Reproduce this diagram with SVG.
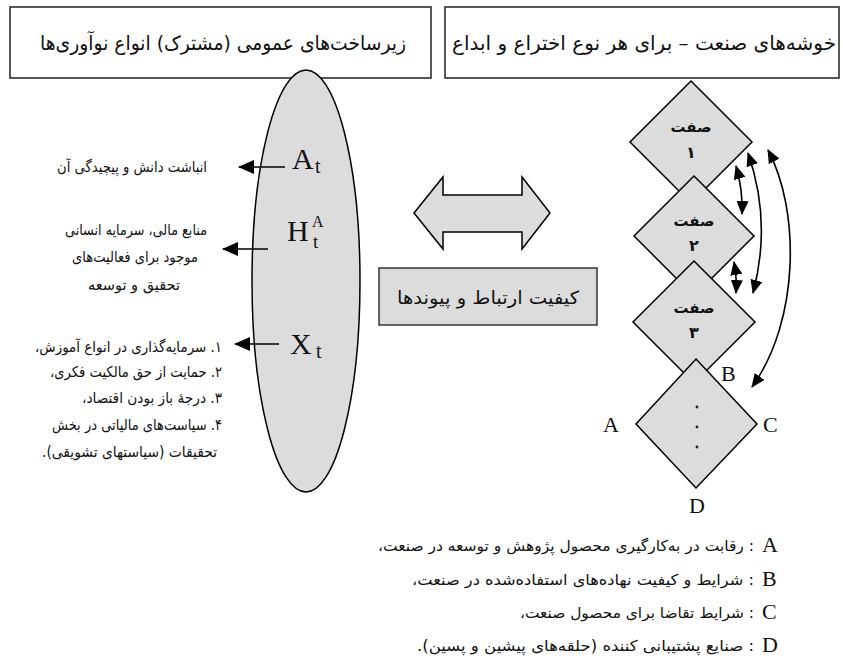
<svg xmlns="http://www.w3.org/2000/svg" width="843" height="671" viewBox="0 0 843 671">
<defs>
<marker id="ah" viewBox="0 0 16 14" markerWidth="16" markerHeight="14" refX="15" refY="7" orient="auto-start-reverse" markerUnits="userSpaceOnUse"><path d="M0,0 L16,7 L0,14 z" fill="#000"/></marker>
<marker id="ahs" viewBox="0 0 14 12" markerWidth="14" markerHeight="12" refX="13" refY="6" orient="auto-start-reverse" markerUnits="userSpaceOnUse"><path d="M0,0 L14,6 L0,12 z" fill="#000"/></marker>
</defs>
<style>
.fa{font-family:'DejaVu Sans',sans-serif;fill:#111}
.lat{font-family:'Liberation Serif',serif;fill:#111}
.shape{fill:#dcdcdc;stroke:#000;stroke-width:1.5}
.box{fill:#fff;stroke:#222;stroke-width:1.5}
.con{fill:none;stroke:#000;stroke-width:1.6}
.b{font-weight:bold}
</style>
<rect width="843" height="671" fill="#fff"/>

<g id="box-infra">
<rect class="box" x="10" y="7" width="421" height="71"/>
<text class="fa" x="223" y="50" font-size="20" direction="rtl" text-anchor="middle" textLength="366" lengthAdjust="spacingAndGlyphs">زیرساخت&#x200C;های عمومی (مشترک) انواع نوآوری&#x200C;ها</text>
</g>
<g id="box-cluster">
<rect class="box" x="445" y="7" width="394" height="71"/>
<text class="fa" x="644" y="50" font-size="20" direction="rtl" text-anchor="middle" textLength="384" lengthAdjust="spacingAndGlyphs">خوشه&#x200C;های صنعت – برای هر نوع اختراع و ابداع</text>
</g>

<g id="ellipse">
<ellipse class="shape" cx="306" cy="281" rx="54" ry="211"/>
<text class="lat" x="292" y="169" font-size="30">A</text>
<text class="lat" x="315" y="173" font-size="20">t</text>
<text class="lat" x="287" y="241" font-size="30">H</text>
<text class="lat" x="312" y="227" font-size="16">A</text>
<text class="lat" x="313" y="248" font-size="19">t</text>
<text class="lat" x="290" y="354" font-size="30">X</text>
<text class="lat" x="316" y="358" font-size="20">t</text>
</g>

<g id="label-knowledge">
<text class="fa" x="132" y="172" font-size="15" direction="rtl" text-anchor="middle" textLength="150" lengthAdjust="spacingAndGlyphs">انباشت دانش و پیچیدگی آن</text>
</g>
<g id="label-resources">
<text class="fa" x="136" y="235" font-size="15" direction="rtl" text-anchor="middle" textLength="142" lengthAdjust="spacingAndGlyphs">منابع مالی، سرمایه انسانی</text>
<text class="fa" x="135" y="262" font-size="15" direction="rtl" text-anchor="middle" textLength="126" lengthAdjust="spacingAndGlyphs">موجود برای فعالیت&#x200C;های</text>
<text class="fa" x="134" y="290" font-size="15" direction="rtl" text-anchor="middle" textLength="92" lengthAdjust="spacingAndGlyphs">تحقیق و توسعه</text>
</g>
<g id="label-policies">
<text class="fa" x="128.5" y="352" font-size="15" direction="rtl" text-anchor="middle" textLength="187" lengthAdjust="spacingAndGlyphs">۱. سرمایه&#x200C;گذاری در انواع آموزش،</text>
<text class="fa" x="136" y="377" font-size="15" direction="rtl" text-anchor="middle" textLength="172" lengthAdjust="spacingAndGlyphs">۲. حمایت از حق مالکیت فکری،</text>
<text class="fa" x="152" y="403" font-size="15" direction="rtl" text-anchor="middle" textLength="140" lengthAdjust="spacingAndGlyphs">۳. درجهٔ باز بودن اقتصاد،</text>
<text class="fa" x="137" y="430" font-size="15" direction="rtl" text-anchor="middle" textLength="170" lengthAdjust="spacingAndGlyphs">۴. سیاست&#x200C;های مالیاتی در بخش</text>
<text class="fa" x="129.5" y="457" font-size="15" direction="rtl" text-anchor="middle" textLength="175" lengthAdjust="spacingAndGlyphs">تحقیقات (سیاستهای تشویقی).</text>
</g>

<g id="double-arrow">
<polygon class="shape" points="414,213 443,177 443,195 522,195 522,177 550,213 522,249 522,232 443,232 443,249"/>
</g>
<g id="box-links">
<rect x="379" y="268" width="218" height="57" fill="#dcdcdc" stroke="#333" stroke-width="1.5"/>
<text class="fa" x="488" y="304" font-size="18" direction="rtl" text-anchor="middle" textLength="182" lengthAdjust="spacingAndGlyphs">کیفیت ارتباط و پیوندها</text>
</g>

<g id="diamond-1">
<polygon class="shape" points="691,81 752,142 691,203 630,142"/>
<text class="fa b" x="691" y="132" font-size="15" direction="rtl" text-anchor="middle">صفت</text>
<text class="fa b" x="691" y="158" font-size="16" text-anchor="middle">۱</text>
</g>
<g id="diamond-2">
<polygon class="shape" points="694,176 754,236 694,296 634,236"/>
<text class="fa b" x="694" y="226" font-size="15" direction="rtl" text-anchor="middle">صفت</text>
<text class="fa b" x="694" y="251" font-size="16" text-anchor="middle">۲</text>
</g>
<g id="diamond-3">
<polygon class="shape" points="694,261 755,322 694,383 633,322"/>
<text class="fa b" x="694" y="313" font-size="15" direction="rtl" text-anchor="middle">صفت</text>
<text class="fa b" x="694" y="338" font-size="16" text-anchor="middle">۳</text>
</g>
<g id="diamond-4">
<polygon class="shape" points="696,359 757,424 696,488 636,424"/>
<circle cx="697" cy="407" r="1.4" fill="#222"/>
<circle cx="697" cy="427" r="1.4" fill="#222"/>
<circle cx="697" cy="447" r="1.4" fill="#222"/>
</g>
<g id="corner-labels">
<text class="lat" x="603" y="432" font-size="22">A</text>
<text class="lat" x="763" y="432" font-size="22">C</text>
<text class="lat" x="721" y="381" font-size="22">B</text>
<text class="lat" x="689" y="513" font-size="22">D</text>
</g>

<g id="connectors">
<line class="con" x1="285" y1="167" x2="239" y2="167" marker-end="url(#ah)"/>
<line class="con" x1="268" y1="249" x2="223" y2="249" marker-end="url(#ah)"/>
<line class="con" x1="279" y1="344" x2="235" y2="344" marker-end="url(#ah)"/>
<path class="con" d="M736,166 Q743,190 742,214" marker-start="url(#ahs)" marker-end="url(#ahs)"/>
<path class="con" d="M734,262 Q737,278 736,293" marker-start="url(#ahs)" marker-end="url(#ahs)"/>
<path class="con" d="M748,153 Q772,222 753,293" marker-start="url(#ahs)" marker-end="url(#ahs)"/>
<path class="con" d="M768,150 C800,210 800,320 752,387" marker-start="url(#ahs)" marker-end="url(#ahs)"/>
</g>

<g id="legend">
<text class="lat" x="762" y="552" font-size="22">A</text>
<text class="fa" x="566" y="551" font-size="15" direction="rtl" text-anchor="middle" textLength="376" lengthAdjust="spacingAndGlyphs">: رقابت در به&#x200C;کارگیری محصول پژوهش و توسعه در صنعت،</text>
<text class="lat" x="762" y="586" font-size="22">B</text>
<text class="fa" x="583" y="585" font-size="15" direction="rtl" text-anchor="middle" textLength="342" lengthAdjust="spacingAndGlyphs">: شرایط و کیفیت نهاده&#x200C;های استفاده&#x200C;شده در صنعت،</text>
<text class="lat" x="762" y="619" font-size="22">C</text>
<text class="fa" x="637" y="618" font-size="15" direction="rtl" text-anchor="middle" textLength="234" lengthAdjust="spacingAndGlyphs">: شرایط تقاضا برای محصول صنعت،</text>
<text class="lat" x="762" y="652" font-size="22">D</text>
<text class="fa" x="585.5" y="651" font-size="15" direction="rtl" text-anchor="middle" textLength="337" lengthAdjust="spacingAndGlyphs">: صنایع پشتیبانی کننده (حلقه&#x200C;های پیشین و پسین).</text>
</g>
</svg>
